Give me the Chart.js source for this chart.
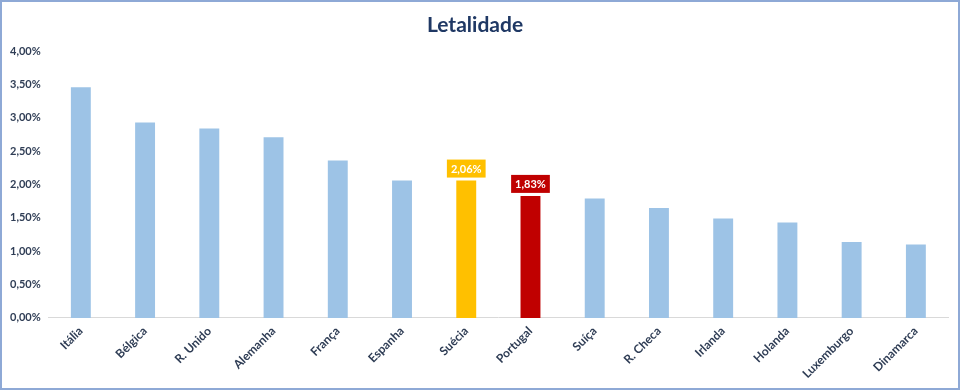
<!DOCTYPE html>
<html>
<head>
<meta charset="utf-8">
<script src="https://cdn.jsdelivr.net/npm/chart.js@4/dist/chart.umd.min.js"></script>
<style>
  html, body { margin: 0; padding: 0; background: #fff; }
  #wrap { width: 960px; height: 390px; box-sizing: border-box; border: 2px solid #8ea9d6; position: relative; }
  canvas { display: block; }
</style>
</head>
<body>
<div id="wrap"><canvas id="chart"></canvas></div>
<script>
// ==== DATA ====
const countries = ['Itália', 'Bélgica', 'R. Unido', 'Alemanha', 'França', 'Espanha', 'Suécia',
  'Portugal', 'Suíça', 'R. Checa', 'Irlanda', 'Holanda', 'Luxemburgo', 'Dinamarca'];
const letalidade = [3.46, 2.93, 2.84, 2.71, 2.36, 2.06, 2.06, 1.83, 1.79, 1.65, 1.49, 1.43, 1.14, 1.10];
const highlight = ['Suécia', 'Portugal'];
const yTicksMax = 4;
const yTickStep = 0.5;

const BLUE = '#9dc3e6';
const colorFor = { 'Suécia': '#ffc000', 'Portugal': '#c00000' };
const TEXT = '#2f3d55';
const FONT = 'Lato, "Open Sans", sans-serif';

function pct(v) {
  return v.toFixed(2).replace('.', ',') + '%';
}

// etiqueta com caixa colorida só para os países destacados
const boxLabels = {
  id: 'boxLabels',
  afterDatasetsDraw(chart) {
    const ctx = chart.ctx;
    const meta = chart.getDatasetMeta(0);
    ctx.save();
    ctx.font = 'bold 11px ' + FONT;
    ctx.textAlign = 'center';
    ctx.textBaseline = 'middle';
    meta.data.forEach((bar, i) => {
      const name = countries[i];
      if (!highlight.includes(name)) return;
      const txt = pct(letalidade[i]);
      const w = ctx.measureText(txt).width + 8;
      const h = 18;
      const x = bar.x;
      const y = bar.y - 3 - h / 2;
      ctx.fillStyle = colorFor[name];
      ctx.fillRect(x - w / 2, y - h / 2, w, h);
      ctx.fillStyle = '#fff';
      ctx.fillText(txt, x, y + 1);
    });
    ctx.restore();
  }
};

new Chart(document.getElementById('chart').getContext('2d'), {
  type: 'bar',
  data: {
    labels: countries,
    datasets: [{
      data: letalidade,
      backgroundColor: countries.map(c => colorFor[c] || BLUE),
      categoryPercentage: 1,
      barPercentage: 0.31
    }]
  },
  options: {
    responsive: true,
    maintainAspectRatio: false,
    animation: false,
    layout: { padding: { left: 0, right: 10, top: 4, bottom: 1 } },
    plugins: {
      legend: { display: false },
      tooltip: { enabled: false },
      title: {
        display: true,
        text: 'Letalidade',
        color: '#1f3864',
        font: { family: FONT, size: 21, weight: 'bold' },
        padding: { top: 7, bottom: 13 }
      }
    },
    scales: {
      x: {
        grid: { display: false, drawTicks: false },
        border: { color: '#d9d9d9', width: 1 },
        ticks: {
          color: TEXT,
          font: { family: FONT, size: 12, weight: 'bold' },
          minRotation: 45,
          maxRotation: 45,
          padding: 6
        }
      },
      y: {
        min: 0,
        max: yTicksMax,
        grid: { display: false, drawTicks: false },
        border: { display: false },
        ticks: {
          stepSize: yTickStep,
          color: TEXT,
          font: { family: FONT, size: 11, weight: 'bold' },
          padding: 8,
          callback: v => pct(v)
        }
      }
    }
  },
  plugins: [boxLabels]
});
</script>
</body>
</html>
